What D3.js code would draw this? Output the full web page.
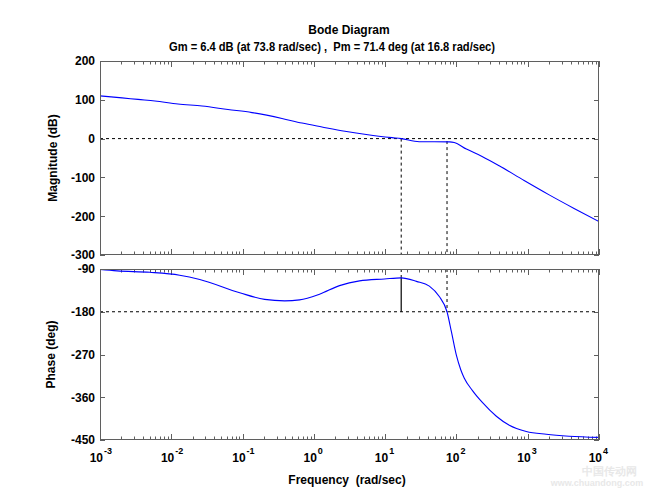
<!DOCTYPE html>
<html><head><meta charset="utf-8">
<script src="https://cdn.jsdelivr.net/npm/d3@7"></script>
<style>
body{margin:0;background:#fff}
text{font-family:"Liberation Sans",Arial,Helvetica,sans-serif;font-weight:bold;fill:#000}
</style>
</head><body>
<svg id="chart" width="663" height="497"></svg>
<script>
// ---- data ----
const magFreq = [0.001,0.00204,0.00341,0.0059,0.0124,0.027,0.0624,0.1355,0.357,0.681,1.3,2.73,5.74,12.5,16.8,30,80,93,138,229,398,891,2000,4470,10000];
const magDb   = [110,105,101,97,89,84,75,67,52,40,30,19,10,2.5,0,-8,-8.5,-10,-27,-46,-70,-108,-145,-180,-214];
const phFreq  = [0.001,0.00173,0.00501,0.0131,0.0251,0.0912,0.204,0.389,0.631,1.2,2.29,4.37,9.8,16.8,27.5,41.7,57.5,73.8,85,100,115,129,168,231,363,552,955,1820,3800,10000];
const phDeg   = [-91,-94,-97,-103,-112,-140,-154,-157,-155,-143,-125,-115,-111,-108.6,-116,-126,-148,-180,-222,-272,-302,-320,-346,-371,-400,-419,-432,-438,-442,-444.5];
const magTicks   = [200,100,0,-100,-200,-300];
const phaseTicks = [-90,-180,-270,-360,-450];
const decadeExps = [-3,-2,-1,0,1,2,3,4];
const gainMargin  = {freq:73.8, db:6.4};
const phaseMargin = {freq:16.8, deg:71.4};
const titleLines = ["Bode Diagram","Gm = 6.4 dB (at 73.8 rad/sec) ,  Pm = 71.4 deg (at 16.8 rad/sec)"];

const svg = d3.select("#chart");
const L = 100, R = 599;
const magBox = {top:61, bottom:255};
const phBox  = {top:269, bottom:440};
const axisColor = "#5f5f5f";

const x = d3.scaleLog().domain([1e-3,1e4]).range([L,R]);
const yMag = d3.scaleLinear().domain([-300,200]).range([magBox.bottom, magBox.top]);
const yPh  = d3.scaleLinear().domain([-450,-90]).range([phBox.bottom, phBox.top]);

const minorTicks = [];
for (let e=-3; e<4; e++) for (let k=2;k<=9;k++) minorTicks.push(k*Math.pow(10,e));
const majorTicks = decadeExps.map(e=>Math.pow(10,e));

svg.append("defs").selectAll("clipPath").data([["cm",magBox],["cp",phBox]]).join("clipPath")
  .attr("id",d=>d[0]).append("rect")
  .attr("x",L).attr("y",d=>d[1].top).attr("width",R-L).attr("height",d=>d[1].bottom-d[1].top);

function panel(box, y, ticks){
  const g = svg.append("g");
  const tk = g.append("g").attr("stroke",axisColor).attr("stroke-width",1);
  [[box.bottom,-1],[box.top,1]].forEach(([yy,dir])=>{
    tk.selectAll(null).data(minorTicks).join("line")
      .attr("x1",d=>Math.round(x(d))+0.5).attr("x2",d=>Math.round(x(d))+0.5)
      .attr("y1",yy).attr("y2",yy+dir*3.5);
    tk.selectAll(null).data(majorTicks).join("line")
      .attr("x1",d=>Math.round(x(d))+0.5).attr("x2",d=>Math.round(x(d))+0.5)
      .attr("y1",yy).attr("y2",yy+dir*6);
  });
  [[L,1],[R,-1]].forEach(([xx,dir])=>{
    tk.selectAll(null).data(ticks).join("line")
      .attr("x1",xx).attr("x2",xx+dir*5)
      .attr("y1",d=>Math.round(y(d))+0.5).attr("y2",d=>Math.round(y(d))+0.5);
  });
  g.selectAll(null).data(ticks).join("text")
    .attr("x",L-5).attr("y",d=>y(d)).attr("dy","0.36em")
    .attr("text-anchor","end").attr("font-size",12).text(d=>d);
  return g;
}

panel(magBox, yMag, magTicks);
panel(phBox, yPh, phaseTicks);

// reference lines
const dash = "3,3";
svg.append("line").attr("x1",L).attr("x2",R).attr("y1",yMag(0)).attr("y2",yMag(0))
  .attr("stroke","#000").attr("stroke-dasharray",dash);
svg.append("line").attr("x1",L).attr("x2",R).attr("y1",yPh(-180)).attr("y2",yPh(-180))
  .attr("stroke","#000").attr("stroke-dasharray",dash);
svg.append("line").attr("x1",x(phaseMargin.freq)).attr("x2",x(phaseMargin.freq))
  .attr("y1",yMag(0)).attr("y2",magBox.bottom).attr("stroke","#000").attr("stroke-dasharray",dash);
svg.append("line").attr("x1",x(gainMargin.freq)).attr("x2",x(gainMargin.freq))
  .attr("y1",yMag(-gainMargin.db)).attr("y2",magBox.bottom).attr("stroke","#000").attr("stroke-dasharray",dash);
const pmPhase = -180 + phaseMargin.deg;
svg.append("line").attr("x1",x(phaseMargin.freq)).attr("x2",x(phaseMargin.freq))
  .attr("y1",phBox.top).attr("y2",yPh(pmPhase)).attr("stroke","#000").attr("stroke-dasharray",dash);
svg.append("line").attr("x1",x(phaseMargin.freq)).attr("x2",x(phaseMargin.freq))
  .attr("y1",yPh(pmPhase)).attr("y2",yPh(-180)).attr("stroke","#000").attr("stroke-width",1.2);
svg.append("line").attr("x1",x(gainMargin.freq)).attr("x2",x(gainMargin.freq))
  .attr("y1",phBox.top).attr("y2",yPh(-180)).attr("stroke","#000").attr("stroke-dasharray",dash);

// curves
const magLine = d3.line().x(d=>x(d[0])).y(d=>yMag(d[1])).curve(d3.curveMonotoneX);
const phLine  = d3.line().x(d=>x(d[0])).y(d=>yPh(d[1])).curve(d3.curveMonotoneX);
svg.append("path").attr("clip-path","url(#cm)").attr("d",magLine(d3.zip(magFreq,magDb)))
  .attr("fill","none").attr("stroke","#0000ff").attr("stroke-width",1.1);
svg.append("path").attr("clip-path","url(#cp)").attr("d",phLine(d3.zip(phFreq,phDeg)))
  .attr("fill","none").attr("stroke","#0000ff").attr("stroke-width",1.1);

// boxes
[magBox,phBox].forEach(b=>{
  svg.append("rect").attr("x",L+0.5).attr("y",b.top+0.5).attr("width",R-L-1).attr("height",b.bottom-b.top-1)
    .attr("fill","none").attr("stroke",axisColor).attr("stroke-width",1);
});

// faint watermark (drawn under labels)
svg.append("text").attr("x",609).attr("y",475).attr("text-anchor","middle").attr("font-size",11)
  .style("fill","#e8e8e8").attr("font-family","Noto Sans CJK SC").text("中国传动网");
svg.append("text").attr("x",597).attr("y",486).attr("text-anchor","middle").attr("font-size",9)
  .style("fill","#e8e8e8").text("www.chuandong.com");

// x tick labels 10^e
const xl = svg.append("g");
decadeExps.forEach(e=>{
  xl.append("text").attr("x",x(Math.pow(10,e))+3).attr("y",462).attr("text-anchor","end")
    .attr("font-size",12).text("10");
  xl.append("text").attr("x",x(Math.pow(10,e))+4).attr("y",454).attr("font-size",9).text(e);
});

// titles and labels
svg.append("text").attr("x",349).attr("y",34).attr("text-anchor","middle").attr("font-size",12).text(titleLines[0]);
svg.append("text").attr("x",332).attr("y",51).attr("text-anchor","middle").attr("font-size",12)
  .attr("xml:space","preserve").style("white-space","pre")
  .attr("textLength",326).attr("lengthAdjust","spacingAndGlyphs").text(titleLines[1]);
svg.append("text").attr("x",347).attr("y",484).attr("text-anchor","middle").attr("font-size",12)
  .attr("xml:space","preserve").style("white-space","pre").text("Frequency  (rad/sec)");
svg.append("text").attr("transform",`translate(57,${(magBox.top+magBox.bottom)/2}) rotate(-90)`)
  .attr("text-anchor","middle").attr("font-size",12).text("Magnitude (dB)");
svg.append("text").attr("transform",`translate(55,${(phBox.top+phBox.bottom)/2}) rotate(-90)`)
  .attr("text-anchor","middle").attr("font-size",12).text("Phase (deg)");
</script>
</body></html>
